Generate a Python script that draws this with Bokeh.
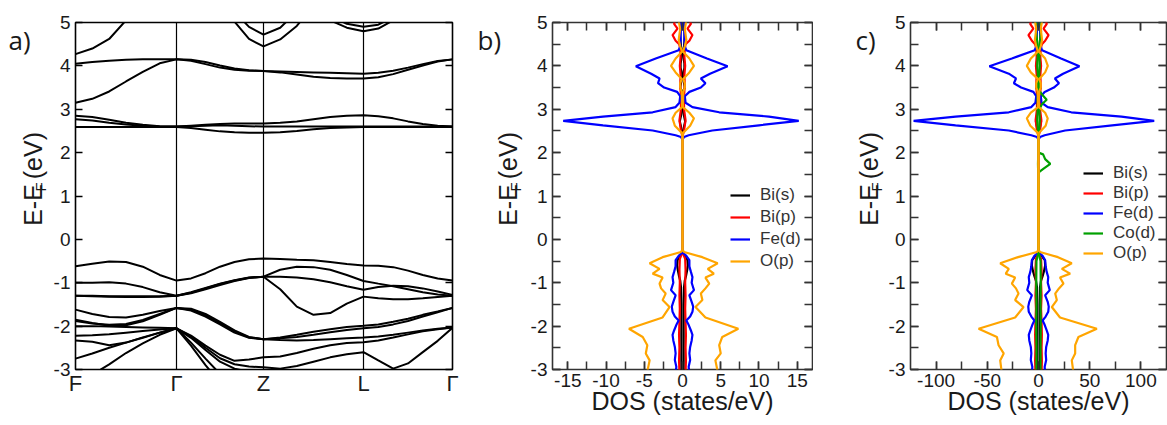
import math
import numpy as np
from bokeh.plotting import figure
from bokeh.layouts import row
from bokeh.models import Range1d, FixedTicker, LinearAxis, Legend, LegendItem, Span
from bokeh.core.properties import value
from bokeh.embed import file_html
from bokeh.resources import INLINE

nan = float("nan")

# ---------------- panel a : band structure ----------------
kpath_labels = ["F", "Γ", "Z", "L", "Γ"]
kpath_pos = [0.0, 1.01, 1.88, 2.88, 3.77]
k_nodes = [0.000, 0.168, 0.337, 0.505, 0.673, 0.842,
           1.010, 1.155, 1.300, 1.445, 1.590, 1.735,
           1.880, 2.047, 2.213, 2.380, 2.547, 2.713,
           2.880, 3.028, 3.177, 3.325, 3.473, 3.622, 3.770]

cb_steep = [4.27, 4.40, 4.62, 5.05, 5.50, nan, nan, nan, nan, nan, nan, nan, nan,
            nan, nan, nan, nan, nan, nan, nan, nan, nan, nan, nan, nan]
cb_z_outer = [nan, nan, nan, nan, nan, nan, nan, nan, nan, 5.45, 5.02, 4.62, 4.45,
              4.61, 4.92, 5.40, nan, nan, nan, nan, nan, nan, nan, nan, nan]
cb_z_inner = [nan, nan, nan, nan, nan, nan, nan, nan, nan, nan, 5.25, 4.90, 4.72,
              4.88, 5.25, nan, nan, nan, nan, nan, nan, nan, nan, nan, nan]
cb_l_outer = [nan, nan, nan, nan, nan, nan, nan, nan, nan, nan, nan, nan, nan,
              nan, nan, nan, 5.05, 4.88, 4.80, 4.86, 5.05, nan, nan, nan, nan]
cb_l_inner = [nan, nan, nan, nan, nan, nan, nan, nan, nan, nan, nan, nan, nan,
              nan, nan, nan, 5.15, 4.97, 4.90, 4.95, 5.12, nan, nan, nan, nan]
cb_4a = [4.05, 4.09, 4.12, 4.14, 4.15, 4.15, 4.15, 4.14, 4.09, 4.01, 3.94, 3.90, 3.88,
         3.87, 3.86, 3.85, 3.84, 3.83, 3.82, 3.84, 3.89, 3.96, 4.04, 4.11, 4.15]
cb_4b = [3.15, 3.24, 3.41, 3.64, 3.86, 4.06, 4.15, 4.12, 4.04, 3.96, 3.91, 3.89, 3.88,
         3.85, 3.80, 3.75, 3.72, 3.71, 3.71, 3.74, 3.81, 3.91, 4.01, 4.10, 4.15]
cb_c1 = [2.85, 2.82, 2.76, 2.69, 2.64, 2.61, 2.60, 2.62, 2.64, 2.66, 2.67, 2.67, 2.67,
         2.69, 2.72, 2.77, 2.82, 2.85, 2.86, 2.84, 2.79, 2.72, 2.66, 2.62, 2.60]
cb_c2 = [2.77, 2.74, 2.69, 2.65, 2.62, 2.60, 2.60, 2.61, 2.62, 2.63, 2.62, 2.61, 2.60,
         2.60, 2.60, 2.60, 2.60, 2.60, 2.60, 2.60, 2.60, 2.60, 2.60, 2.60, 2.60]
cb_c3 = [2.59, 2.59, 2.59, 2.59, 2.59, 2.59, 2.59, 2.57, 2.53, 2.49, 2.47, 2.46, 2.46,
         2.47, 2.50, 2.54, 2.57, 2.58, 2.59, 2.59, 2.59, 2.59, 2.59, 2.59, 2.59]

vb1 = [-0.62, -0.56, -0.51, -0.52, -0.63, -0.82, -0.95, -0.90, -0.78, -0.63, -0.52, -0.46, -0.44,
       -0.45, -0.47, -0.48, -0.52, -0.57, -0.60, -0.61, -0.64, -0.72, -0.82, -0.90, -0.95]
vb2 = [-1.00, -1.00, -0.99, -1.02, -1.10, -1.22, -1.30, -1.22, -1.12, -1.02, -0.94, -0.88, -0.86,
       -0.70, -0.63, -0.64, -0.70, -0.82, -0.96, -1.02, -1.08, -1.15, -1.22, -1.27, -1.30]
vb3 = [-1.30, -1.31, -1.32, -1.33, -1.33, -1.32, -1.30, -1.24, -1.15, -1.05, -0.96, -0.89, -0.86,
       -0.86, -0.88, -0.92, -0.99, -1.08, -1.16, -1.10, -1.07, -1.08, -1.13, -1.20, -1.28]
vb4 = [-1.30, -1.30, -1.31, -1.31, -1.31, -1.31, -1.30, -1.23, -1.13, -1.03, -0.95, -0.885, -0.86,
       -1.15, -1.55, -1.74, -1.70, -1.48, -1.32, -1.36, -1.38, -1.38, -1.36, -1.33, -1.30]
vb5 = [-1.62, -1.72, -1.79, -1.80, -1.74, -1.65, -1.58, -1.60, -1.72, -1.90, -2.10, -2.25, -2.30,
       -2.26, -2.20, -2.13, -2.07, -2.02, -1.99, -1.96, -1.90, -1.83, -1.74, -1.66, -1.58]
vb6 = [-1.85, -1.93, -1.99, -1.98, -1.89, -1.74, -1.58, -1.62, -1.75, -1.93, -2.12, -2.26, -2.30,
       -2.28, -2.25, -2.20, -2.14, -2.09, -2.05, -2.02, -1.96, -1.88, -1.78, -1.68, -1.58]
vb7 = [-2.00, -2.00, -2.01, -2.02, -2.03, -2.04, -2.05, -2.22, -2.45, -2.66, -2.80, -2.77, -2.72,
       -2.70, -2.62, -2.52, -2.44, -2.39, -2.37, -2.33, -2.26, -2.19, -2.12, -2.07, -2.03]
vb8 = [-1.88, -1.94, -1.97, -1.95, -1.86, -1.72, -1.58, -1.64, -1.78, -1.96, -2.15, -2.27, -2.30,
       -2.32, -2.33, -2.32, -2.30, -2.28, -2.26, -2.24, -2.20, -2.15, -2.10, -2.06, -2.03]
vb9 = [-2.22, -2.21, -2.19, -2.15, -2.11, -2.08, -2.05, -2.24, -2.50, -2.74, -2.88, -2.93, -2.95,
       -2.98, -2.92, -2.82, -2.72, -2.65, -2.60, -2.79, -2.98, -2.86, -2.60, -2.34, -2.04]
vb10 = [-2.33, -2.36, -2.44, -2.38, -2.27, -2.15, -2.05, -2.38, -2.75, -3.10, -3.40, nan, nan,
        nan, nan, nan, nan, nan, nan, nan, nan, nan, nan, nan, nan]
vb11 = [-2.75, -2.63, -2.50, -2.38, -2.26, -2.15, -2.05, -2.45, -2.90, -3.30, nan, nan, nan,
        nan, nan, nan, nan, nan, nan, nan, nan, nan, nan, nan, nan]
vb12 = [-3.40, -3.12, -2.88, -2.62, -2.40, -2.20, -2.05, -2.27, -2.55, -2.82, -2.98, -3.05, -3.12,
        nan, nan, nan, nan, nan, nan, nan, nan, nan, nan, nan, nan]

bands = [cb_steep, cb_z_outer, cb_z_inner, cb_l_outer, cb_l_inner, cb_4a, cb_4b,
         cb_c1, cb_c2, cb_c3, vb1, vb2, vb3, vb4, vb5, vb6, vb7, vb8, vb9, vb10, vb11, vb12]

energy_ticks = [-3, -2, -1, 0, 1, 2, 3, 4, 5]
energy_minor = [-3, -2.5, -2, -1.5, -1, -0.5, 0, 0.5, 1, 1.5, 2, 2.5, 3, 3.5, 4, 4.5, 5]

# ---------------- DOS energies (shared by panels b, c) ----------------
bis_E = [5.05, 4.70, 4.45, 4.30, 4.05, 3.95, 3.80, 3.60, 3.50, 3.40, 3.00, 2.85, 2.72, 2.60,
         2.40, -0.30, -0.38, -0.48, -0.60, -0.72, -0.85, -0.95, -1.10, -1.50, -2.00, -2.50, -3.05]
bip_E = [5.05, 4.97, 4.86, 4.71, 4.58, 4.50, 4.40, 4.20, 4.00, 3.80, 3.55, 3.30, 3.00, 2.75,
         2.50, 2.38, -0.30, -0.45, -0.70, -1.00, -1.30, -1.60, -1.90, -2.20, -2.50, -2.80, -3.05]
fe_E = [5.05, 4.60, 4.45, 4.36, 4.17, 3.99, 3.82, 3.71, 3.60, 3.50,
        3.40, 3.30, 3.15, 3.05, 2.93, 2.83, 2.73, 2.63, 2.51, 2.40,
        2.36, 2.30, -0.30, -0.38, -0.48, -0.62, -0.75, -0.87, -1.00, -1.17,
        -1.29, -1.44, -1.55, -1.67, -1.78, -1.87, -1.97, -2.10, -2.20, -2.33,
        -2.48, -2.63, -2.78, -2.94, -3.05]
cod_E = [5.05, 4.80, 4.60, 4.40, 4.20, 4.00, 3.80, 3.45, 3.35, 3.22,
         3.12, 3.00, 2.75, 2.50, 2.38, 2.00, 1.96, 1.85, 1.74, 1.63,
         1.55, 1.45, -0.30, -0.50, -1.00, -1.50, -2.00, -2.50, -3.05]
op_E = [5.05, 4.85, 4.60, 4.45, 4.33, 4.17, 4.00, 3.85, 3.70, 3.60,
        3.50, 3.40, 3.05, 2.92, 2.79, 2.62, 2.45, 2.38, -0.25, -0.29,
        -0.41, -0.55, -0.68, -0.79, -0.88, -1.02, -1.13, -1.25, -1.40, -1.56,
        -1.80, -2.06, -2.25, -2.44, -2.63, -2.79, -3.05]

# ---------------- panel b : BiFeO3 DOS ----------------
b_bis_up = [0.20, 0.30, 0.20, 0.05, 0.25, 0.25, 0.05, 0.20, 0.30, 0.05, 0.05, 0.20, 0.35, 0.20,
            0.00, 0.00, 0.40, 0.65, 0.70, 0.60, 0.45, 0.30, 0.20, 0.15, 0.15, 0.15, 0.15]
b_bis_dn = [-0.20, -0.30, -0.20, -0.05, -0.25, -0.25, -0.05, -0.20, -0.30, -0.05, -0.05, -0.20, -0.35, -0.20,
            0.00, 0.00, -0.40, -0.65, -0.70, -0.60, -0.45, -0.30, -0.20, -0.15, -0.15, -0.15, -0.15]
b_bip_up = [0.90, 1.10, 0.65, 1.30, 0.90, 0.40, 0.30, 0.25, 0.35, 0.25, 0.30, 0.20, 0.20, 0.40,
            0.20, 0.00, 0.00, 0.35, 0.40, 0.35, 0.40, 0.35, 0.40, 0.45, 0.40, 0.45, 0.40]
b_bip_dn = [-0.90, -1.10, -0.65, -1.30, -0.90, -0.43, -0.30, -0.25, -0.35, -0.25, -0.30, -0.20, -0.20, -0.40,
            -0.20, 0.00, 0.00, -0.35, -0.40, -0.35, -0.40, -0.35, -0.40, -0.45, -0.40, -0.45, -0.40]
b_fe_up = [0.20, 0.25, 0.30, 0.50, 3.20, 5.90, 3.60, 2.40, 3.00, 2.40,
           0.90, 0.30, 0.40, 1.30, 4.80, 11.3, 15.2, 10.0, 3.90, 0.80,
           0.20, 0.00, 0.00, 0.50, 0.90, 0.90, 1.10, 1.30, 1.20, 1.50,
           0.90, 1.20, 1.40, 1.30, 1.00, 0.50, 0.80, 1.10, 1.30, 1.20,
           1.00, 0.90, 1.00, 0.80, 0.90]
b_fe_dn = [-0.20, -0.25, -0.30, -0.50, -3.50, -6.10, -4.10, -3.00, -3.20, -2.40,
           -0.70, -0.30, -0.40, -0.90, -3.90, -10.4, -15.6, -10.4, -3.90, -0.90,
           -0.20, 0.00, 0.00, -0.50, -0.90, -0.90, -1.10, -1.30, -1.20, -1.50,
           -0.90, -1.20, -1.40, -1.30, -1.00, -0.50, -0.80, -1.10, -1.30, -1.20,
           -1.00, -0.90, -1.00, -0.80, -0.90]
b_op_up = [0.50, 0.30, 0.50, 0.30, 0.05, 0.90, 1.50, 0.90, 0.10, 0.30,
           0.30, 0.10, 0.05, 0.90, 1.50, 1.00, 0.05, 0.03, 0.03, 0.20,
           2.60, 4.60, 3.30, 4.10, 3.00, 3.50, 3.00, 2.40, 2.60, 1.70,
           3.00, 7.30, 5.20, 4.80, 5.00, 4.30, 4.60]
b_op_dn = [-0.50, -0.30, -0.50, -0.30, -0.05, -0.90, -1.50, -0.90, -0.10, -0.30,
           -0.30, -0.10, -0.05, -0.90, -1.30, -1.00, -0.05, -0.03, -0.03, -0.20,
           -2.60, -4.30, -3.00, -3.90, -2.60, -3.00, -2.80, -2.20, -2.60, -1.70,
           -2.60, -7.00, -5.20, -4.60, -4.80, -4.30, -4.60]
b_xticks = [-15, -10, -5, 0, 5, 10, 15]
b_xminor = [-15, -12.5, -10, -7.5, -5, -2.5, 0, 2.5, 5, 7.5, 10, 12.5, 15]

# ---------------- panel c : Co-doped DOS ----------------
c_bis_up = [1.5, 2.2, 1.5, 0.4, 1.8, 1.8, 0.4, 1.5, 2.2, 0.4, 0.4, 1.5, 2.5, 1.5,
            0.0, 0.0, 3.0, 6.2, 6.5, 5.5, 4.0, 2.5, 1.5, 1.2, 1.2, 1.2, 1.2]
c_bis_dn = [-1.5, -2.2, -1.5, -0.4, -1.8, -1.8, -0.4, -1.5, -2.2, -0.4, -0.4, -1.5, -2.5, -1.5,
            0.0, 0.0, -3.0, -6.2, -6.5, -5.5, -4.0, -2.5, -1.5, -1.2, -1.2, -1.2, -1.2]
c_bip_up = [6.5, 8.1, 4.9, 9.8, 6.5, 3.3, 2.2, 1.8, 2.5, 1.8, 2.2, 1.5, 1.5, 2.8,
            1.5, 0.0, 0.0, 2.5, 3.0, 2.5, 3.0, 2.5, 3.0, 3.3, 3.0, 3.3, 3.0]
c_bip_dn = [-6.5, -8.1, -5.0, -9.8, -6.5, -3.3, -2.2, -1.8, -2.5, -1.8, -2.2, -1.5, -1.5, -2.8,
            -1.5, 0.0, 0.0, -2.5, -3.0, -2.5, -3.0, -2.5, -3.0, -3.3, -3.0, -3.3, -3.0]
c_fe_up = [1.5, 1.8, 2.2, 3.5, 22.0, 40.0, 24.0, 16.0, 20.0, 15.0,
           6.0, 2.2, 3.0, 9.0, 32.0, 81.0, 113.0, 72.0, 26.0, 6.0,
           1.5, 0.0, 0.0, 4.0, 6.5, 7.0, 8.0, 9.5, 9.0, 11.0,
           6.5, 9.0, 10.0, 9.5, 7.0, 4.0, 6.0, 8.0, 9.5, 9.0,
           7.5, 7.0, 7.5, 6.0, 6.5]
c_fe_dn = [-1.5, -1.8, -2.2, -3.7, -26.0, -48.0, -29.0, -22.0, -24.0, -17.0,
           -5.0, -2.2, -3.0, -7.0, -29.0, -81.0, -122.0, -81.0, -29.0, -7.0,
           -1.5, 0.0, 0.0, -4.0, -6.5, -7.0, -8.0, -9.5, -9.0, -11.0,
           -6.5, -9.0, -10.0, -9.5, -7.0, -4.0, -6.0, -8.0, -9.5, -9.0,
           -7.5, -7.0, -7.5, -6.0, -6.5]
c_cod_up = [1.5, 2.5, 1.5, 0.5, 0.8, 1.2, 0.6, 0.5, 3.0, 8.0,
            3.5, 0.8, 1.2, 0.5, 0.0, 0.0, 4.5, 6.5, 11.5, 5.0,
            0.5, 0.0, 0.0, 2.0, 2.2, 2.0, 2.2, 2.0, 2.0]
c_cod_dn = [-1.5, -2.5, -1.5, -0.5, -0.8, -1.2, -0.6, -0.5, -0.6, -1.0,
            -0.6, -0.8, -1.2, -0.5, 0.0, 0.0, -0.3, -0.4, -0.5, -0.4,
            -0.2, 0.0, 0.0, -2.0, -2.2, -2.0, -2.2, -2.0, -2.0]
c_op_up = [3.5, 2.2, 3.5, 2.2, 0.4, 6.5, 9.1, 6.5, 0.7, 2.2,
           2.2, 0.7, 0.4, 6.5, 9.0, 7.0, 0.4, 0.2, 0.2, 1.5,
           19.0, 32.5, 22.8, 30.9, 21.0, 24.4, 20.0, 16.3, 17.9, 13.0,
           21.0, 57.0, 39.0, 35.8, 35.8, 32.5, 34.0]
c_op_dn = [-3.5, -2.2, -3.5, -2.2, -0.4, -7.5, -11.4, -7.5, -0.7, -2.2,
           -2.2, -0.7, -0.4, -7.5, -11.4, -8.0, -0.4, -0.2, -0.2, -1.5,
           -20.0, -37.4, -29.0, -32.0, -22.8, -26.0, -22.0, -19.5, -22.8, -14.6,
           -22.8, -58.5, -40.6, -39.0, -34.0, -37.4, -36.0]
c_xticks = [-100, -50, 0, 50, 100]
c_xminor = [-100, -75, -50, -25, 0, 25, 50, 75, 100]

species_colors = {"Bi(s)": "#000000", "Bi(p)": "#ff0000", "Fe(d)": "#0000ff",
                  "Co(d)": "#00a000", "O(p)": "#ffa500"}

panel_letters = ["a)", "b)", "c)"]
y_title = ["E-E", "F", "(eV)"]
x_title = "DOS (states/eV)"

# ---------------- styling helpers ----------------
SANS = "Liberation Sans"
LETTER = "Open Sans"
TXT = "#1a1a1a"
H = 425


def make_fig(width, left, right, top, bottom, xr, yr, outline):
    p = figure(width=width, height=H, x_range=Range1d(*xr), y_range=Range1d(*yr),
               output_backend="svg", toolbar_location=None,
               min_border_left=left, min_border_right=right,
               min_border_top=top, min_border_bottom=bottom)
    p.xgrid.visible = False
    p.ygrid.visible = False
    p.outline_line_color = outline
    p.outline_line_width = 1.6
    p.background_fill_color = "white"
    p.border_fill_color = "white"
    return p


def style_axis(ax, ticks, minor, labels, tick_len, color, size="19px", standoff=5):
    ax.ticker = FixedTicker(ticks=ticks, minor_ticks=minor)
    ax.axis_line_color = None
    ax.major_tick_in = tick_len
    ax.major_tick_out = 0
    ax.minor_tick_in = tick_len
    ax.minor_tick_out = 0
    ax.major_tick_line_color = color
    ax.minor_tick_line_color = color
    ax.major_tick_line_width = 1.5
    ax.minor_tick_line_width = 1.5
    if labels:
        ax.major_label_text_font = SANS
        ax.major_label_text_font_size = size
        ax.major_label_text_color = TXT
        ax.major_label_standoff = standoff
        ax.major_label_overrides = {t: str(t) for t in ticks}
    else:
        ax.major_label_text_font_size = "0px"
        ax.major_label_text_alpha = 0
        ax.major_label_standoff = 0


def label_column(width, offset, letter, letter_px, bottom_px):
    """Blank strip (data coords = pixels) with the panel letter and the rotated E-E_F (eV) title."""
    p = figure(width=width, height=H, x_range=Range1d(0, width), y_range=Range1d(0, H),
               output_backend="svg", toolbar_location=None, x_axis_type=None, y_axis_type=None,
               min_border=0, min_border_left=0, min_border_right=0, min_border_top=0, min_border_bottom=0)
    p.xgrid.visible = False
    p.ygrid.visible = False
    p.outline_line_color = None
    p.background_fill_color = "white"
    p.border_fill_color = "white"

    def put(px, py, t, size, font=SANS, angle=0.0, baseline="bottom"):
        p.text(x=[px - offset], y=[H - py], text=[t], angle=angle,
               text_font=value(font), text_font_size=value(size),
               text_align=value("left"), text_baseline=value(baseline), text_color=TXT)

    put(letter_px, 21, letter, "26px", font=LETTER, baseline="middle")
    put(bottom_px, 249, y_title[0], "25px", angle=math.pi / 2)
    put(bottom_px + 2, 207, y_title[1], "15px", angle=math.pi / 2)
    put(bottom_px, 192, y_title[2], "25px", angle=math.pi / 2)
    return p


# ---------------- panel a ----------------
pa = make_fig(410, 25, 8, 21, 49, (0, 3.77), (-3, 5), "black")
style_axis(pa.yaxis[0], energy_ticks, [], True, 7, "black", "19px", 5)
ra = LinearAxis()
style_axis(ra, energy_ticks, [], False, 7, "black")
pa.add_layout(ra, "right")
xa = pa.xaxis[0]
xa.ticker = FixedTicker(ticks=kpath_pos, minor_ticks=[])
xa.axis_line_color = None
xa.major_tick_line_color = None
xa.minor_tick_line_color = None
xa.major_tick_in = 0
xa.major_tick_out = 0
xa.major_label_text_font = SANS
xa.major_label_text_font_size = "22px"
xa.major_label_text_color = TXT
xa.major_label_standoff = 1
xa.major_label_overrides = {pos: lab for pos, lab in zip(kpath_pos, kpath_labels)}

for kp in kpath_pos[1:-1]:
    pa.add_layout(Span(location=kp, dimension="height", line_color="black", line_width=1.2))
for band in bands:
    pa.line(k_nodes, np.array(band, dtype=float), line_color="black", line_width=2.0)


# ---------------- DOS panels ----------------
def dos_panel(width, left, xr, xticks, xminor, series, legend_loc, spacing):
    p = make_fig(width, left, 1, 22, 56, xr, (-3, 5), "#333333")
    style_axis(p.yaxis[0], energy_ticks, energy_minor, True, 8, "#333333", "19px", 5)
    r = LinearAxis()
    style_axis(r, energy_ticks, energy_minor, False, 8, "#333333")
    p.add_layout(r, "right")
    xb = p.xaxis[0]
    style_axis(xb, xticks, xminor, True, 8, "#333333", "19px", 4)
    xb.axis_label = x_title
    xb.axis_label_text_font = SANS
    xb.axis_label_text_font_size = "25px"
    xb.axis_label_text_font_style = "normal"
    xb.axis_label_text_color = TXT
    xb.axis_label_standoff = -3
    t = LinearAxis()
    style_axis(t, xticks, xminor, False, 8, "#333333")
    p.add_layout(t, "above")

    items = []
    for name, E, up, dn in series:
        col = species_colors[name]
        r_up = p.line(up, E, line_color=col, line_width=2.2)
        p.line(dn, E, line_color=col, line_width=2.2)
        items.append(LegendItem(label=name, renderers=[r_up]))
    leg = Legend(items=items, location=legend_loc, padding=0, margin=0, spacing=spacing,
                 glyph_width=20, glyph_height=20, label_height=20, label_standoff=10,
                 label_text_font=SANS, label_text_font_size="17px", label_text_color="#333333",
                 background_fill_alpha=0, border_line_alpha=0)
    p.add_layout(leg)
    return p


series_b = [("Bi(s)", bis_E, b_bis_up, b_bis_dn),
            ("Bi(p)", bip_E, b_bip_up, b_bip_dn),
            ("Fe(d)", fe_E, b_fe_up, b_fe_dn),
            ("O(p)", op_E, b_op_up, b_op_dn)]
series_c = [("Bi(s)", bis_E, c_bis_up, c_bis_dn),
            ("Bi(p)", bip_E, c_bip_up, c_bip_dn),
            ("Fe(d)", fe_E, c_fe_up, c_fe_dn),
            ("Co(d)", cod_E, c_cod_up, c_cod_dn),
            ("O(p)", op_E, c_op_up, c_op_dn)]

pb = dos_panel(288, 27, (-17, 17), b_xticks, b_xminor, series_b, (178, 98), 2)
pc = dos_panel(282, 25, (-125, 125), c_xticks, c_xminor, series_c, (173, 106), 0)

lab_a = label_column(50, 0, panel_letters[0], 8, 46)
lab_b = label_column(65, 460, panel_letters[1], 477, 521)
lab_c = label_column(72, 813, panel_letters[2], 855, 882)

layout = row(lab_a, pa, lab_b, pb, lab_c, pc)
open("out.html", "w").write(file_html(layout, INLINE))
